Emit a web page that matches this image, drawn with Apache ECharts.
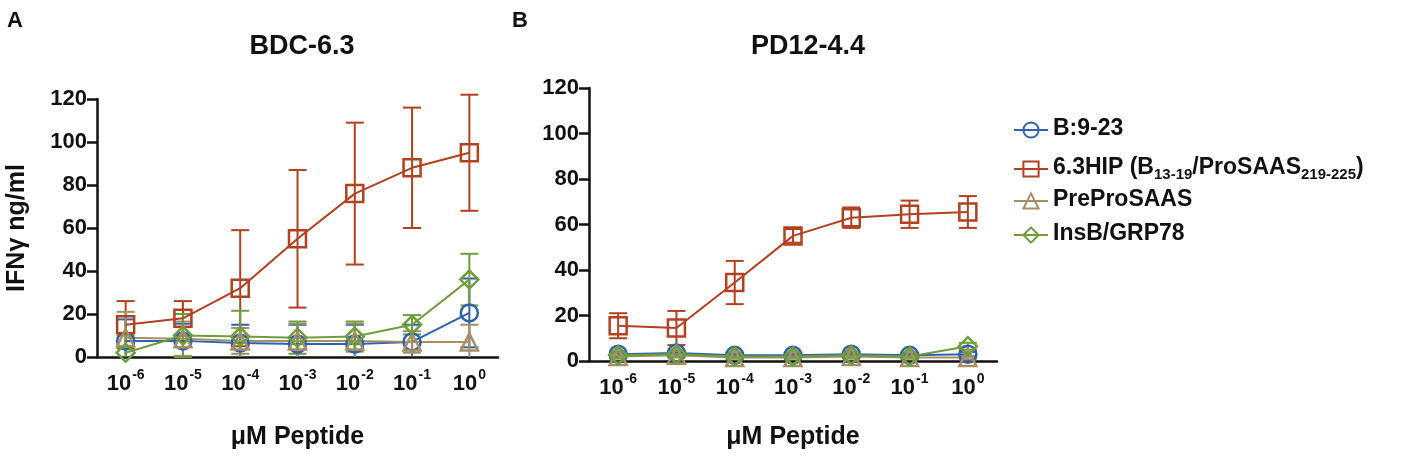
<!DOCTYPE html>
<html lang="en">
<head>
    <meta charset="UTF-8">
    <title>IFNg dose response</title>
    <script src="https://cdn.jsdelivr.net/npm/echarts@6/dist/echarts.min.js"></script>
    <style>
        html, body { margin: 0; padding: 0; background: #fff; }
    </style>
</head>
<body>
    <div id="main" style="width: 1417px;height:455px;"></div>
    <script>
        // peptide concentration, exponent of 10 (uM)
        var exponents = ['-6', '-5', '-4', '-3', '-2', '-1', '0'];
        var yTicks = [0, 20, 40, 60, 80, 100, 120];

        var seriesNames = ['B:9-23', '6.3HIP (B13-19/ProSAAS219-225)', 'PreProSAAS', 'InsB/GRP78'];
        var seriesColors = ['#2f62ae', '#b3401f', '#a68f62', '#6e9e3c'];
        var seriesSymbols = ['circle', 'rect', 'triangle', 'diamond'];

        // panel A : BDC-6.3
        var b923A = [7.5, 7.5, 6.5, 6, 6, 7, 20.5];
        var b923AErr = [10, 8, 8.5, 9, 9, 8, 16];
        var hipA = [15, 18, 32, 55, 76, 88, 95];
        var hipAErr = [11, 8, 27, 32, 33, 28, 27];
        var ppsA = [9, 8.5, 7.5, 7.5, 7.5, 7, 7];
        var ppsAErr = [12, 8, 6, 8, 8, 5, 8];
        var insA = [2, 10, 9.5, 9, 9.5, 15, 36];
        var insAErr = [8, 10, 12, 7.5, 7, 4.5, 12];

        // panel B : PD12-4.4
        var b923B = [3, 3.5, 2.5, 2.5, 3, 2.5, 3];
        var b923BErr = [1, 1, 0.8, 0.8, 1, 0.8, 1];
        var hipB = [15.5, 14.5, 34.5, 55, 63, 64.5, 65.5];
        var hipBErr = [5.5, 7.5, 9.5, 3, 4.5, 6, 7];
        var ppsB = [2, 2.5, 1.5, 1.5, 2, 1.5, 1.5];
        var ppsBErr = [1, 1, 0.5, 0.5, 1, 0.5, 0.8];
        var insB = [2.5, 3, 2, 2, 2.5, 2, 6.5];
        var insBErr = [1, 1, 0.8, 0.8, 1, 0.8, 1.5];

        var panelA = [[b923A, b923AErr], [hipA, hipAErr], [ppsA, ppsAErr], [insA, insAErr]];
        var panelB = [[b923B, b923BErr], [hipB, hipBErr], [ppsB, ppsBErr], [insB, insBErr]];

        var FONT = 'Arial, "Liberation Sans", Helvetica, sans-serif';

        var myChart = echarts.init(document.getElementById('main'));

        function errorBars(color) {
            return function (params, api) {
                var x = api.value(0), m = api.value(1), e = api.value(2);
                var top = api.coord([x, m + e]);
                var lo = Math.max(m - e, 0);
                var bot = api.coord([x, lo]);
                var w = 9;
                var st = { stroke: color, lineWidth: 2 };
                var kids = [
                    { type: 'line', shape: { x1: top[0], y1: top[1], x2: bot[0], y2: bot[1] }, style: st },
                    { type: 'line', shape: { x1: top[0] - w, y1: top[1], x2: top[0] + w, y2: top[1] }, style: st }
                ];
                if (m - e >= 0) {
                    kids.push({ type: 'line', shape: { x1: bot[0] - w, y1: bot[1], x2: bot[0] + w, y2: bot[1] }, style: st });
                }
                return { type: 'group', children: kids };
            };
        }

        function panelSeries(panel, axisIndex) {
            var out = [];
            panel.forEach(function (p, i) {
                var means = p[0], errs = p[1];
                out.push({
                    name: seriesNames[i] + ' err',
                    type: 'custom',
                    xAxisIndex: axisIndex,
                    yAxisIndex: axisIndex,
                    renderItem: errorBars(seriesColors[i]),
                    data: means.map(function (v, k) { return [k, v, errs[k]]; }),
                    z: 2
                });
            });
            panel.forEach(function (p, i) {
                out.push({
                    name: seriesNames[i],
                    type: 'line',
                    xAxisIndex: axisIndex,
                    yAxisIndex: axisIndex,
                    data: p[0],
                    symbol: seriesSymbols[i],
                    symbolSize: seriesSymbols[i] === 'diamond' ? 18 : 17,
                    lineStyle: { color: seriesColors[i], width: 2 },
                    itemStyle: { color: 'rgba(255,255,255,0)', borderColor: seriesColors[i], borderWidth: 2.5 },
                    z: 3
                });
            });
            return out;
        }

        function xAxisFor(gridIndex, gap) {
            return {
                type: 'category',
                gridIndex: gridIndex,
                data: exponents,
                boundaryGap: true,
                name: 'μM Peptide',
                nameLocation: 'middle',
                nameGap: gap,
                nameTextStyle: { fontFamily: FONT, fontWeight: 'bold', fontSize: 25, color: '#111' },
                axisLine: { lineStyle: { color: '#111', width: 2.5 } },
                axisTick: { alignWithLabel: true, length: 10, lineStyle: { color: '#111', width: 2.5 } },
                axisLabel: {
                    interval: 0,
                    margin: 11,
                    formatter: function (v) { return '{b|10}{s|' + v + '}'; },
                    rich: {
                        b: { fontFamily: FONT, fontWeight: 'bold', fontSize: 22, color: '#111', lineHeight: 27, verticalAlign: 'bottom' },
                        s: { fontFamily: FONT, fontWeight: 'bold', fontSize: 14, color: '#111', lineHeight: 14, verticalAlign: 'top', padding: [0, 0, 0, 1] }
                    }
                },
                splitLine: { show: false }
            };
        }

        function yAxisFor(gridIndex, withName) {
            return {
                type: 'value',
                gridIndex: gridIndex,
                min: yTicks[0],
                max: yTicks[yTicks.length - 1],
                interval: yTicks[1] - yTicks[0],
                name: withName ? 'IFNγ ng/ml' : '',
                nameLocation: 'middle',
                nameGap: 67,
                nameTextStyle: { fontFamily: FONT, fontWeight: 'bold', fontSize: 25, color: '#111' },
                axisLine: { show: true, lineStyle: { color: '#111', width: 2.5 } },
                axisTick: { show: true, length: 10, lineStyle: { color: '#111', width: 2.5 } },
                axisLabel: { margin: 10, fontFamily: FONT, fontWeight: 'bold', fontSize: 22, color: '#111' },
                splitLine: { show: false }
            };
        }

        var legendRich = {
            n: { fontFamily: FONT, fontWeight: 'bold', fontSize: 23, color: '#111', lineHeight: 26, verticalAlign: 'top' },
            s: { fontFamily: FONT, fontWeight: 'bold', fontSize: 15, color: '#111', lineHeight: 15, verticalAlign: 'bottom' }
        };
        var legendTops = [112, 151, 183, 217];
        var legends = seriesNames.map(function (nm, i) {
            return {
                data: [nm],
                left: 1008,
                top: legendTops[i],
                itemWidth: 34,
                itemHeight: 19,
                itemGap: 0,
                selectedMode: false,
                formatter: function (name) {
                    if (name === seriesNames[1]) {
                        return '{n|6.3HIP (B}{s|13-19}{n|/ProSAAS}{s|219-225}{n|)}';
                    }
                    return '{n|' + name + '}';
                },
                textStyle: { rich: legendRich }
            };
        });

        option = {
            animation: false,
            backgroundColor: '#fff',
            title: [
                { text: 'A', left: 2, top: 5, textStyle: { fontFamily: FONT, fontWeight: 'bold', fontSize: 22, color: '#111' } },
                { text: 'B', left: 507, top: 5, textStyle: { fontFamily: FONT, fontWeight: 'bold', fontSize: 22, color: '#111' } },
                { text: 'BDC-6.3', left: 297, top: 28, textAlign: 'center', textStyle: { fontFamily: FONT, fontWeight: 'bold', fontSize: 27, color: '#111' } },
                { text: 'PD12-4.4', left: 803, top: 28, textAlign: 'center', textStyle: { fontFamily: FONT, fontWeight: 'bold', fontSize: 27, color: '#111' } }
            ],
            legend: legends,
            grid: [
                { left: 97, top: 99, width: 401, height: 258, containLabel: false, outerBoundsMode: 'none' },
                { left: 589, top: 88, width: 408, height: 273, containLabel: false, outerBoundsMode: 'none' }
            ],
            xAxis: [xAxisFor(0, 68), xAxisFor(1, 64)],
            yAxis: [yAxisFor(0, true), yAxisFor(1, false)],
            series: panelSeries(panelA, 0).concat(panelSeries(panelB, 1))
        };

        myChart.setOption(option);
    </script>
</body>
</html>
